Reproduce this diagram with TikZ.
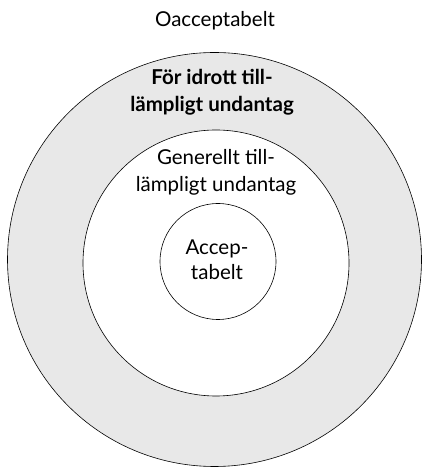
\documentclass[tikz,border=0pt]{standalone}
\usepackage{fontspec}
\setmainfont{Lato}
\usepackage{tikz}
\usetikzlibrary{positioning}

\begin{document}
\begin{tikzpicture}[x=1pt, y=1pt,
  ring/.style={circle, draw=black, line width=0.6pt, inner sep=0pt},
  label/.style={align=center, font=\fontsize{20.5}{27}\selectfont, anchor=base}]
\useasboundingbox (0,0) rectangle (422,468);
%Circles
\node[ring, fill=black!9, minimum size=414pt] (outer) at (214.5,208.5) {};
\node[ring, fill=white, minimum size=266pt] (middle) at (216,205) {};
\node[ring, fill=white, minimum size=116pt] (inner) at (218,206.5) {};

%Texts
\node[label] (oacc) at (215,441) {Oacceptabelt};
\node[label, font=\fontsize{20.5}{27}\selectfont\bfseries] (idrott) at (212,356) {För idrott till-\\lämpligt undantag};
\node[label] (generellt) at (216,276) {Generellt till-\\lämpligt undantag};
\node[label, font=\fontsize{20.5}{25}\selectfont] (acc) at (217,188) {Accep-\\tabelt};
\end{tikzpicture}
\end{document}
